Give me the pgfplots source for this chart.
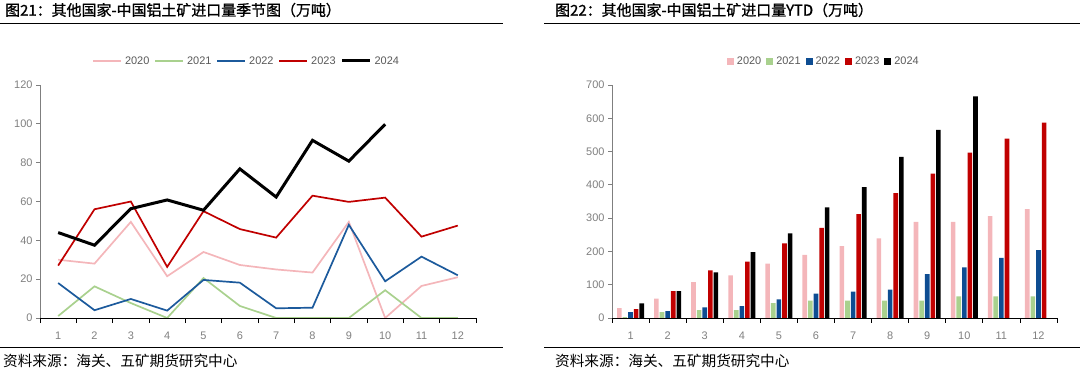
\documentclass[border=0pt]{standalone}
\usepackage{pgfplots}
\pgfplotsset{compat=1.18}
\usepackage{pgfplotstable}
\usepackage{fontspec}
\setmainfont{Liberation Sans}
\newfontfamily\cjk{Noto Sans CJK SC}
\newfontfamily\cjkb[FakeBold=1.1]{Noto Sans CJK SC}
\definecolor{cpink}{HTML}{F4B6BA}
\definecolor{cgreen}{HTML}{A9D18E}
\definecolor{cblue}{HTML}{1C5A9C}
\definecolor{cbblue}{HTML}{0E4D92}
\definecolor{cred}{HTML}{C00000}
\definecolor{tickgrey}{HTML}{7F7F7F}
\definecolor{leggrey}{HTML}{595959}

\pgfplotstableread{
m a b c d e
1 30 1 18 27 44
2 28 16.3 4 56 37.5
3 49.5 7.7 9.8 60 56.3
4 21.5 0 3.8 26.3 60.8
5 34 20.6 19.6 55 55.5
6 27.3 6.2 18.2 45.8 76.8
7 25 0 5 41.4 62.3
8 23.4 0 5.3 63 91.5
9 49.5 0 48 59.8 80.8
10 0 14.3 18.9 62 99.8
11 16.5 0 31.6 41.9 nan
12 21 0 22 47.6 nan
}\monthly

\pgfplotstableread{
m a b c d e
1 30 3 18 27 44
2 58 18 21 81 81
3 108 24 32 143 137
4 128 24 36 169 198
5 163 45 56 224 254
6 190 52 73 271 332
7 216 52 79 312 393
8 239 52 85 375 484
9 289 52 132 434 565
10 289 65 152 497 666
11 306 65 181 539 nan
12 327 65 204 587 nan
}\ytd

\pgfplotsset{
  common/.style={
    scale only axis,
    anchor=south west,
    height=233bp,
    xmin=0.5, xmax=12.5, ymin=0,
    axis x line*=bottom, axis y line*=left,
    axis line style={-},
    x axis line style={black, line width=0.8bp},
    y axis line style={tickgrey, line width=0.8bp},
    xtick={1,...,12},
    minor xtick={0.5,1.5,...,12.5},
    major x tick style={draw=none},
    minor x tick style={black, line width=0.8bp},
    major y tick style={tickgrey, line width=0.8bp},
    tick align=outside,
    major tick length=4bp,
    minor tick length=5bp,
    ticklabel style={font=\fontsize{11}{12}\selectfont, text=tickgrey},
    xticklabel style={yshift=-6bp},
    /pgf/number format/assume math mode=true,
    legend style={draw=none, fill=none, font=\fontsize{11}{12}\selectfont, text=leggrey,
      legend columns=5, anchor=center,
      /tikz/every odd column/.append style={column sep=1bp},
      /tikz/every even column/.append style={column sep=3bp}},
  }
}

\begin{document}
\begin{tikzpicture}
\path[use as bounding box] (0bp,0bp) rectangle (1080bp,374bp);

% titles
\node[anchor=west, font=\cjkb\fontsize{15}{17}\selectfont, inner sep=0] at (5bp,364bp) {图21：其他国家-中国铝土矿进口量季节图（万吨）};
\node[anchor=west, font=\cjkb\fontsize{15}{17}\selectfont, inner sep=0] at (555bp,364bp) {图22：其他国家-中国铝土矿进口量YTD（万吨）};
\draw[line width=0.8bp] (0bp,350.5bp) -- (503bp,350.5bp);
\draw[line width=0.8bp] (544bp,350.5bp) -- (1080bp,350.5bp);
\draw[line width=0.8bp] (0bp,27bp) -- (503bp,27bp);
\draw[line width=0.8bp] (544bp,27bp) -- (1080bp,27bp);
\node[anchor=west, font=\cjk\fontsize{14.7}{16}\selectfont, inner sep=0] at (3bp,13bp) {资料来源：海关、五矿期货研究中心};
\node[anchor=west, font=\cjk\fontsize{14.7}{16}\selectfont, inner sep=0] at (555bp,13bp) {资料来源：海关、五矿期货研究中心};

\begin{axis}[common,
  at={(40bp,56bp)}, width=436bp,
  ymax=120, ytick={0,20,...,120},
  legend style={at={(0.474,1.103)}},
  legend image code/.code={\draw[#1] (0bp,0bp) -- (28bp,0bp);},
]
\addplot[cpink, line width=1.7bp] table[x=m,y=a] {\monthly};
\addlegendentry{2020}
\addplot[cgreen, line width=1.7bp] table[x=m,y=b] {\monthly};
\addlegendentry{2021}
\addplot[cblue, line width=1.7bp] table[x=m,y=c] {\monthly};
\addlegendentry{2022}
\addplot[cred, line width=1.7bp] table[x=m,y=d] {\monthly};
\addlegendentry{2023}
\addplot[black, line width=3bp] table[x=m,y=e] {\monthly};
\addlegendentry{2024}
\end{axis}

\begin{axis}[common,
  at={(612bp,56bp)}, width=445bp,
  ymax=700, ytick={0,100,...,700},
  ybar=1bp, bar width=4.6bp,
  legend style={at={(0.476,1.103)}},
  legend image code/.code={\fill[#1] (0bp,-3.5bp) rectangle (7bp,3.5bp);},
]
\addplot[fill=cpink, draw=none] table[x=m,y=a] {\ytd};
\addlegendentry{2020}
\addplot[fill=cgreen, draw=none] table[x=m,y=b] {\ytd};
\addlegendentry{2021}
\addplot[fill=cbblue, draw=none] table[x=m,y=c] {\ytd};
\addlegendentry{2022}
\addplot[fill=cred, draw=none] table[x=m,y=d] {\ytd};
\addlegendentry{2023}
\addplot[fill=black, draw=none] table[x=m,y=e] {\ytd};
\addlegendentry{2024}
\end{axis}
\end{tikzpicture}
\end{document}
